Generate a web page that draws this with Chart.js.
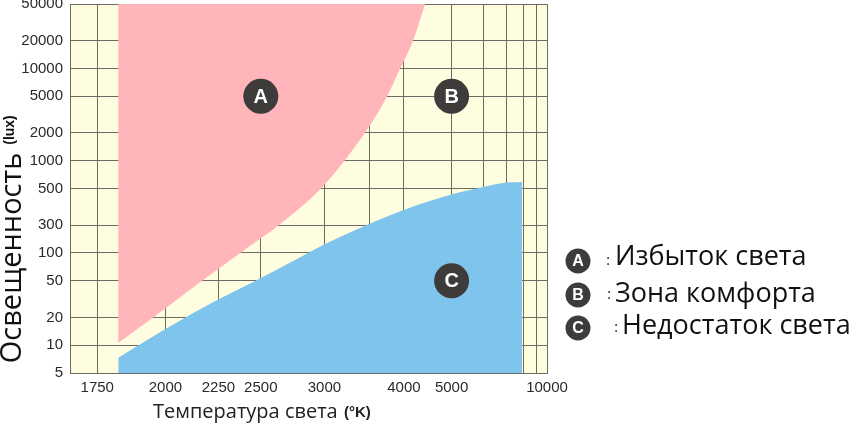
<!doctype html>
<html>
<head>
<meta charset="utf-8">
<title>Освещенность и температура света</title>
<script src="https://cdn.jsdelivr.net/npm/chart.js"></script>
<style>
  html, body { margin: 0; padding: 0; background: #fff; }
  canvas { display: block; }
</style>
</head>
<body>
<canvas id="chart" width="863" height="424"></canvas>
<script>
// colour temperature grid (K) and the labels printed under it
const xGridTemps = [1750, 2000, 2250, 2500, 3000, 3500, 4000, 5000, 6000, 7000, 8000, 9000, 10000];
const xTickLabels = ['1750', '2000', '2250', '2500', '3000', '', '4000', '5000', '', '', '', '', '10000'];
// illuminance grid (lux); the source prints "300" on the 200 line
const yGridLux = [5, 10, 20, 50, 100, 200, 500, 1000, 2000, 5000, 10000, 20000, 50000];
const yTickLabels = ['5', '10', '20', '50', '100', '300', '500', '1000', '2000', '5000', '10000', '20000', '50000'];

// zone A, lower edge (too much light)
const excessTemps = [1820, 1950, 2158, 2372, 2634, 2989, 3478, 3737, 3937, 4160, 4390];
const excessLux = [10.6, 20, 48.5, 100, 206, 532, 2264, 5000, 10000, 20000, 50000];
// zone C, upper edge (too little light)
const lackTemps = [1820, 2008, 2244, 2451, 2788, 2988, 3490, 3954, 5013, 5988, 6845, 7924];
const lackLux = [7.3, 15.4, 30.9, 48.5, 90, 122, 206, 285, 432, 519, 574, 588];

// zone badges inside the plot
const markerLabels = ['A', 'B', 'C'];
const markerTemps = [2500, 5000, 5000];
const markerLux = [5000, 5000, 50];

const legendKeys = ['A', 'B', 'C'];
const legendTexts = ['Избыток света', 'Зона комфорта', 'Недостаток света'];

// the temperature axis is linear in reciprocal temperature (mired)
const toMired = t => 1e6 / t;

const gridColor = '#6d6c63';
const tickFont = { family: 'Liberation Sans', size: 15 };

function badge(ctx, x, y, r, letter, size) {
  ctx.beginPath();
  ctx.arc(x, y, r, 0, Math.PI * 2);
  ctx.fillStyle = '#3e3b3b';
  ctx.fill();
  ctx.fillStyle = '#fff';
  ctx.font = 'bold ' + size + 'px "Liberation Sans"';
  ctx.textAlign = 'center';
  ctx.textBaseline = 'middle';
  ctx.fillText(letter, x, y + 1);
}

const overlay = {
  id: 'overlay',
  beforeDraw(chart) {
    const { ctx, chartArea: a } = chart;
    ctx.save();
    ctx.fillStyle = '#fffde0';
    ctx.fillRect(a.left, a.top, a.right - a.left, a.bottom - a.top);
    ctx.restore();
  },
  afterDraw(chart) {
    const { ctx } = chart;
    const xs = chart.scales.x;
    const ys = chart.scales.y;
    ctx.save();

    markerLabels.forEach((k, i) => {
      badge(ctx, xs.getPixelForValue(toMired(markerTemps[i])), ys.getPixelForValue(markerLux[i]), 17.5, k, 20);
    });

    // legend on the right
    const legendY = [261, 295, 328];
    const textX = [615, 615, 622];
    const colonX = [608, 609, 616];
    const baseY = [265, 302, 334];
    legendKeys.forEach((k, i) => {
      badge(ctx, 578, legendY[i], 12.5, k, 16);
      ctx.fillStyle = '#111';
      ctx.textAlign = 'center';
      ctx.textBaseline = 'middle';
      ctx.font = '14px "Open Sans"';
      ctx.fillText(':', colonX[i], legendY[i]);
      ctx.textAlign = 'left';
      ctx.textBaseline = 'alphabetic';
      ctx.font = '27px "Open Sans"';
      ctx.fillText(legendTexts[i], textX[i], baseY[i]);
    });

    // x title
    ctx.fillStyle = '#222';
    ctx.textAlign = 'left';
    ctx.textBaseline = 'alphabetic';
    ctx.font = '20px "Open Sans"';
    ctx.fillText('Температура света', 153, 418);
    ctx.font = 'bold 15px "Liberation Sans"';
    ctx.fillText('(°K)', 344, 417);

    // y title
    ctx.save();
    ctx.translate(21, 258);
    ctx.rotate(-Math.PI / 2);
    ctx.textAlign = 'center';
    ctx.fillStyle = '#111';
    ctx.font = '29px "Open Sans"';
    ctx.fillText('Освещенность', 0, 0);
    ctx.restore();

    ctx.save();
    ctx.translate(14, 130);
    ctx.rotate(-Math.PI / 2);
    ctx.textAlign = 'center';
    ctx.fillStyle = '#111';
    ctx.font = 'bold 14px "Liberation Sans"';
    ctx.fillText('(lux)', 0, 0);
    ctx.restore();

    ctx.restore();
  }
};

new Chart(document.getElementById('chart'), {
  type: 'line',
  data: {
    datasets: [
      {
        label: 'A',
        data: excessTemps.map((t, i) => ({ x: toMired(t), y: excessLux[i] })),
        fill: 'end',
        backgroundColor: '#ffb5b9',
        borderWidth: 0,
        pointRadius: 0,
        cubicInterpolationMode: 'monotone',
      },
      {
        label: 'C',
        data: lackTemps.map((t, i) => ({ x: toMired(t), y: lackLux[i] })),
        fill: 'start',
        backgroundColor: '#7ec4ec',
        borderWidth: 0,
        pointRadius: 0,
        cubicInterpolationMode: 'monotone',
      },
    ],
  },
  options: {
    responsive: false,
    animation: false,
    layout: { padding: { left: 0, top: 4, right: 316, bottom: 0 } },
    plugins: { legend: { display: false }, tooltip: { enabled: false } },
    scales: {
      x: {
        type: 'linear',
        reverse: true,
        min: 100,
        max: 600,
        z: 1,
        afterBuildTicks: (s) => {
          s.ticks = xGridTemps.map((t) => ({ value: toMired(t) }));
        },
        afterFit: (s) => {
          s.height = 51;
          s.paddingLeft = 0;
          s.paddingRight = 0;
        },
        ticks: {
          callback: (v, i) => xTickLabels[i],
          font: tickFont,
          color: '#2a2a2a',
          padding: 6,
          maxRotation: 0,
          autoSkip: false,
        },
        grid: { color: gridColor, lineWidth: 1, drawTicks: false },
        border: { display: true, color: gridColor, width: 1 },
      },
      y: {
        type: 'logarithmic',
        min: 5,
        max: 50000,
        z: 1,
        afterBuildTicks: (s) => {
          s.ticks = yGridLux.map((v) => ({ value: v }));
        },
        afterFit: (s) => {
          s.width = 70;
          s.paddingTop = 0;
          s.paddingBottom = 0;
        },
        ticks: {
          callback: (v, i) => yTickLabels[i],
          font: tickFont,
          color: '#2a2a2a',
          padding: 7,
          autoSkip: false,
        },
        grid: { color: gridColor, lineWidth: 1, drawTicks: false },
        border: { display: true, color: gridColor, width: 1 },
      },
    },
  },
  plugins: [overlay],
});
</script>
</body>
</html>
